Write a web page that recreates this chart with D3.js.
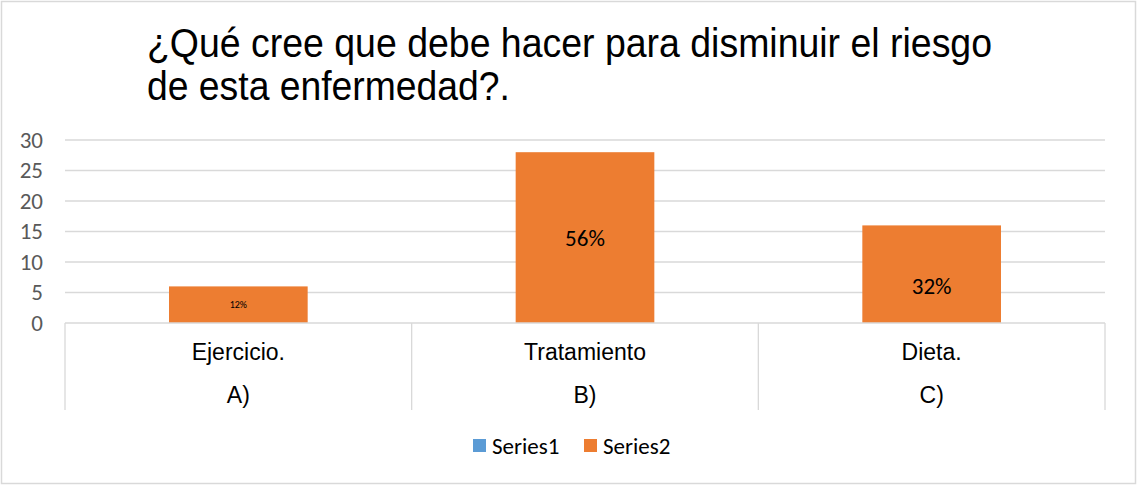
<!DOCTYPE html>
<html>
<head>
<meta charset="utf-8">
<script src="https://cdn.jsdelivr.net/npm/d3@7"></script>
<style>
  body { margin: 0; background: #fff; }
  svg { display: block; }
</style>
</head>
<body>
<div id="chart"></div>
<script>
const titleLines = ['¿Qué cree que debe hacer para disminuir el riesgo', 'de esta enfermedad?.']
const titleWidths = [845, 363]
const categories = ['Ejercicio.', 'Tratamiento', 'Dieta.']
const letters = ['A)', 'B)', 'C)']
const series1 = [0, 0, 0]
const series2 = [6, 28, 16]
const labels = ['12%', '56%', '32%']
const labelAt = [3, 14, 6]
const yTicks = [0, 5, 10, 15, 20, 25, 30]
const seriesNames = ['Series1', 'Series2']
const seriesColors = ['#5b9bd5', '#ed7d31']

const width = 1137
const height = 485
const margin = { top: 140, left: 65, right: 32, bottom: 162 }
const calibri = 'Carlito, Calibri, "Open Sans", sans-serif'
const arial = '"Liberation Sans", Arial, sans-serif'

const svg = d3.select('#chart')
  .append('svg')
  .attr('width', width)
  .attr('height', height)

// outer chart border
svg.append('rect')
  .attr('x', 1.5)
  .attr('y', 1.5)
  .attr('width', width - 3)
  .attr('height', height - 3)
  .attr('fill', '#fff')
  .attr('stroke', '#d9d9d9')
  .attr('stroke-width', 1.5)

// title (narrow look, squeezed to the reference width)
svg.append('g')
  .selectAll('text')
  .data(titleLines)
  .enter()
  .append('text')
  .attr('x', 147)
  .attr('y', (d, i) => 57 + i * 43)
  .attr('textLength', (d, i) => titleWidths[i])
  .attr('lengthAdjust', 'spacingAndGlyphs')
  .style('font-family', arial)
  .style('font-size', '40px')
  .attr('fill', '#000')
  .text(d => d)

const x = d3.scaleBand()
  .domain(categories)
  .range([margin.left, width - margin.right])
  .paddingInner(0)
  .paddingOuter(0)

const y = d3.scaleLinear()
  .domain([0, 30])
  .range([height - margin.bottom, margin.top])

// gridlines
svg.append('g')
  .selectAll('line')
  .data(yTicks.filter(t => t > 0))
  .enter()
  .append('line')
  .attr('x1', margin.left)
  .attr('x2', width - margin.right)
  .attr('y1', d => y(d))
  .attr('y2', d => y(d))
  .attr('stroke', '#d9d9d9')
  .attr('stroke-width', 1.3)

// y axis labels
const yAxis = svg.append('g')
  .attr('transform', `translate(${margin.left - 22},0)`)
  .call(d3.axisLeft(y).tickValues(yTicks).tickSize(0).tickPadding(0))
yAxis.select('.domain').remove()
yAxis.selectAll('text')
  .style('font-family', calibri)
  .style('font-size', '23px')
  .attr('fill', '#595959')

// bars (series1 is all zero, series2 centred in each category)
const barW = x.bandwidth() * 0.4
svg.append('g')
  .selectAll('rect')
  .data(series2)
  .enter()
  .append('rect')
  .attr('x', (d, i) => x(categories[i]) + (x.bandwidth() - barW) / 2)
  .attr('y', d => y(d))
  .attr('width', barW)
  .attr('height', d => y(0) - y(d))
  .attr('fill', seriesColors[1])

// data labels
svg.append('g')
  .selectAll('text')
  .data(labels)
  .enter()
  .append('text')
  .attr('x', (d, i) => x(categories[i]) + x.bandwidth() / 2)
  .attr('y', (d, i) => y(labelAt[i]))
  .attr('text-anchor', 'middle')
  .attr('dominant-baseline', 'central')
  .style('font-family', calibri)
  .style('font-size', (d, i) => series2[i] < 10 ? '10px' : '23px')
  .attr('fill', '#000')
  .text(d => d)

// category axis box
const axisG = svg.append('g')
const axisBottom = y(0) + 87
axisG.append('line')
  .attr('x1', margin.left)
  .attr('x2', width - margin.right)
  .attr('y1', y(0))
  .attr('y2', y(0))
  .attr('stroke', '#d9d9d9')
  .attr('stroke-width', 1.3)
axisG.selectAll('.sep')
  .data(categories.map(c => x(c)).concat([width - margin.right]))
  .enter()
  .append('line')
  .attr('class', 'sep')
  .attr('x1', d => d)
  .attr('x2', d => d)
  .attr('y1', y(0))
  .attr('y2', axisBottom)
  .attr('stroke', '#d9d9d9')
  .attr('stroke-width', 1.3)

axisG.selectAll('.cat')
  .data(categories)
  .enter()
  .append('text')
  .attr('class', 'cat')
  .attr('x', d => x(d) + x.bandwidth() / 2)
  .attr('y', y(0) + 37)
  .attr('text-anchor', 'middle')
  .style('font-family', arial)
  .style('font-size', '23px')
  .attr('fill', '#000')
  .text(d => d)

axisG.selectAll('.letter')
  .data(letters)
  .enter()
  .append('text')
  .attr('class', 'letter')
  .attr('x', (d, i) => x(categories[i]) + x.bandwidth() / 2)
  .attr('y', y(0) + 80)
  .attr('text-anchor', 'middle')
  .style('font-family', arial)
  .style('font-size', '23px')
  .attr('fill', '#000')
  .text(d => d)

// legend
const legend = svg.append('g')
  .attr('transform', 'translate(473,439)')
const items = legend.selectAll('g')
  .data(seriesNames)
  .enter()
  .append('g')
  .attr('transform', (d, i) => `translate(${i * 111},0)`)
items.append('rect')
  .attr('width', 13)
  .attr('height', 13)
  .attr('fill', (d, i) => seriesColors[i])
items.append('text')
  .attr('x', 19)
  .attr('y', 7)
  .attr('dominant-baseline', 'central')
  .style('font-family', calibri)
  .style('font-size', '23px')
  .attr('fill', '#000')
  .text(d => d)
</script>
</body>
</html>
